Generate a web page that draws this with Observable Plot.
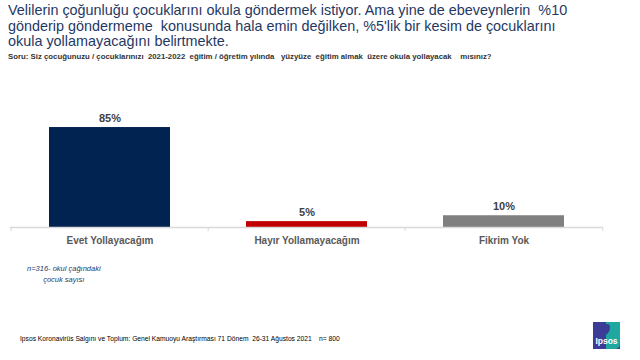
<!DOCTYPE html>
<html><head><meta charset="utf-8">
<script src="https://cdn.jsdelivr.net/npm/d3@7"></script>
<script src="https://cdn.jsdelivr.net/npm/@observablehq/plot@0.6"></script>
<style>
body{margin:0;background:#fff;font-family:"Liberation Sans",Arial,sans-serif;}
#wrap{position:relative;width:640px;height:360px;overflow:hidden;}
.abs{position:absolute;}
#title{left:8px;top:3px;font-size:14.4px;line-height:15.5px;color:#1f3864;letter-spacing:0;white-space:nowrap;}
#sub{left:8px;top:52px;font-size:7.8px;font-weight:bold;color:#333;white-space:nowrap;}
#note{left:27px;top:263px;font-size:7.5px;font-style:italic;color:#1f3864;text-align:center;line-height:11px;}
#foot{left:20px;top:335px;font-size:6.7px;color:#000;white-space:nowrap;}
#chart{left:0;top:90px;}
#logo{left:593px;top:322px;width:27px;height:27px;}
</style></head>
<body><div id="wrap">
<div id="title" class="abs">Velilerin çoğunluğu çocuklarını okula göndermek istiyor. Ama yine de ebeveynlerin&nbsp; %10<br>gönderip göndermeme&nbsp; konusunda hala emin değilken, %5'lik bir kesim de çocuklarını<br>okula yollamayacağını belirtmekte.</div>
<div id="sub" class="abs">Soru: Siz çocuğunuzu / çocuklarınızı&nbsp; 2021-2022&nbsp; eğitim / öğretim yılında&nbsp;&nbsp; yüzyüze&nbsp; eğitim almak&nbsp; üzere okula yollayacak&nbsp;&nbsp;&nbsp; mısınız?</div>
<div id="chart" class="abs"></div>
<div id="note" class="abs">n=316- okul çağındaki<br>çocuk sayısı</div>
<div id="foot" class="abs">Ipsos Koronavirüs Salgını ve Toplum: Genel Kamuoyu Araştırması 71 Dönem&nbsp; 26-31 Ağustos 2021&nbsp;&nbsp;&nbsp; n= 800</div>
<svg id="logo" class="abs" viewBox="0 0 27 27">
<rect x="0" y="0" width="27" height="27" fill="#3c3c96"/>
<path d="M13 0 H27 V21 Q27 27 21 27 H13 Z" fill="#1fa8a0"/>
<path d="M11 5 Q11 2 14 2 Q17 2 17 5 Q17 9 15 11 L14 13 L13 11 Q11 9 11 5 Z" fill="#3c3c96"/>
<text x="13.5" y="22" font-size="8.5" font-weight="bold" fill="#fff" text-anchor="middle" font-family="Liberation Sans, Arial">Ipsos</text>
</svg>
</div>
<script>
const categories = ["Evet Yollayacağım", "Hayır Yollamayacağım", "Fikrim Yok"];
const values = [85, 5, 10];
const labels = ["85%", "5%", "10%"];
const colors = ["#002352", "#c00000", "#808080"];

const data = categories.map((c, i) => ({cat: c, v: values[i], label: labels[i], color: colors[i]}));
const step = 197.7;

const chart = Plot.plot({
  width: 640,
  height: 170,
  marginLeft: 10,
  marginRight: 37,
  marginTop: 19.4,
  marginBottom: 33,
  style: {fontFamily: "Liberation Sans, Arial, sans-serif", background: "#fff"},
  x: {domain: categories, paddingInner: 0.387, paddingOuter: 0.197, label: null},
  y: {domain: [0, 100], axis: null},
  marks: [
    Plot.barY(data, {x: "cat", y: "v", fill: "color"}),
    Plot.ruleY([0], {stroke: "#d9d9d9", strokeWidth: 1.5}),
    Plot.ruleX(categories, {x: d => d, dx: -step / 2, y1: 0, y2: -3.5, stroke: "#d9d9d9"}),
    Plot.ruleX([categories[categories.length - 1]], {x: d => d, dx: step / 2, y1: 0, y2: -3.5, stroke: "#d9d9d9"}),
    Plot.text(data, {x: "cat", y: "v", text: "label", dy: -9, fill: "#404040", fontSize: 11, fontWeight: "bold"}),
    Plot.axisX({tickSize: 0, tickPadding: 9, fontSize: 10, fontWeight: "bold", color: "#595959", label: null})
  ]
});
document.getElementById("chart").appendChild(chart);
</script>
</body></html>
